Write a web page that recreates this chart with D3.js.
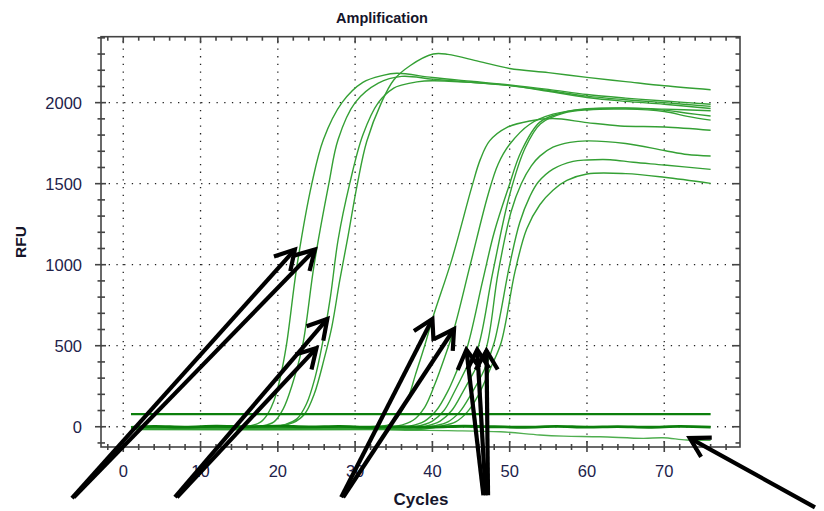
<!DOCTYPE html>
<html><head><meta charset="utf-8">
<script src="https://cdn.jsdelivr.net/npm/d3@7/dist/d3.min.js"></script>
<style>body{margin:0;background:#fff;}svg{display:block;font-family:"Liberation Sans",Arial,sans-serif;}</style>
</head><body><svg id="c" width="824" height="511"></svg>
<script>
const title = "Amplification", xLabel = "Cycles", yLabel = "RFU";
const xTicks = [0, 10, 20, 30, 40, 50, 60, 70];
const yTicks = [0, 500, 1000, 1500, 2000];
const xMinor = d3.range(-2, 80, 2);
const yMinor = d3.range(-100, 2401, 100);
const threshold = 78;
const cycleSpan = [1, 76];

// early amplification curves [cycle, RFU]
const earlyA = [[1,-3],[8,0],[14,2],[16.5,6],[17.8,30],[18.7,80],[19.5,160],[20.3,300],[21.1,500],[22.5,1000],[24.4,1500],[25.9,1773],[28.3,2000],[31,2125],[33.6,2168],[35.4,2181],[40,2155],[45,2132],[50,2110],[55,2082],[60,2050],[65,2028],[70,2010],[76,1990]];
const earlyB = [[1,-5],[8,-2],[15,0],[18,6],[19.5,30],[20.7,110],[21.8,250],[23.2,500],[24.7,1000],[26.6,1500],[27.8,1773],[30,2000],[33,2120],[36,2162],[40,2145],[45,2125],[50,2105],[55,2075],[60,2040],[65,2018],[70,2000],[76,1977]];
const earlyC = [[1,-8],[10,-4],[17,0],[19,4],[21,15],[22.5,50],[23.7,140],[24.8,300],[25.8,520],[26.8,800],[27.8,1154],[29.3,1500],[31,1800],[33,2000],[35,2090],[36,2108],[38,2128],[40,2135],[45,2125],[50,2105],[55,2070],[60,2032],[65,2008],[70,1990],[76,1964]];
const earlyD = [[1,-10],[10,-6],[18,-2],[20,5],[22,25],[23.5,80],[24.7,200],[26,420],[27,620],[28,900],[29,1154],[30.3,1500],[31.5,1760],[33.4,2000],[35,2140],[37.1,2228],[40.1,2300],[42,2298],[46,2255],[50,2211],[55,2185],[60,2156],[65,2130],[70,2104],[76,2080]];

// late amplification curves [cycle, RFU]
const late1 = [[1,-5],[20,-5],[30,-3],[33,3],[34.5,15],[35.5,60],[36.8,170],[37.8,320],[39,500],[40.1,680],[42.5,1030],[45.1,1480],[46.2,1650],[47.4,1764],[49.6,1846],[52.6,1887],[55.6,1902],[60,1877],[64.3,1856],[70,1850],[76,1830]];
const late2 = [[1,-8],[25,-6],[33,-4],[35.5,5],[37.5,40],[39,120],[40.3,260],[41.6,430],[42.8,603],[44.9,1000],[47.2,1432],[48.5,1620],[50,1743],[52.6,1867],[55.6,1929],[60,1960],[64.3,1966],[70,1954],[73,1935],[76,1918]];
const late3 = [[1,-10],[30,-8],[35,-6],[37,3],[39,35],[40.5,100],[42,220],[43.3,360],[44.4,475],[46.5,900],[48,1200],[49.8,1470],[51.5,1700],[53.9,1880],[57,1940],[60,1962],[65,1968],[70,1960],[76,1950]];
const late4 = [[1,-12],[30,-10],[36,-8],[38,2],[40,35],[41.5,100],[43,230],[44.6,380],[45.8,475],[47.8,950],[50,1432],[52,1720],[54,1870],[57,1935],[60,1955],[65,1960],[70,1945],[73,1915],[76,1892]];
const late5 = [[1,-12],[32,-12],[37,-10],[39,2],[41,35],[42.5,100],[44,220],[45.5,350],[46.9,475],[48.5,950],[50.2,1330],[51.5,1500],[52.8,1610],[53.9,1670],[55.6,1725],[57.8,1755],[60,1764],[65,1748],[70,1705],[73,1680],[76,1671]];
const late6 = [[1,-15],[34,-15],[38,-12],[40,3],[42,30],[43.5,90],[45,200],[46.7,350],[48,520],[50,1000],[51.3,1260],[52.6,1420],[53.7,1510],[55.6,1590],[58.2,1638],[60,1646],[63,1648],[66,1632],[70,1615],[76,1588]];
const late7 = [[1,-18],[35,-18],[39,-14],[41,3],[43,30],[44.5,90],[46,200],[47.6,370],[48.9,520],[50.7,960],[52.2,1220],[53.9,1370],[55.6,1460],[57.4,1520],[60,1560],[65,1562],[70,1540],[76,1502]];

// flat traces
const ntc = [[1,-4],[4,2],[8,-2],[12,3],[16,0],[20,4],[24,-1],[28,2],[32,-3],[36,1],[40,-2],[44,3],[48,0],[52,-3],[56,2],[60,-2],[64,1],[68,-3],[72,2],[76,-2]];
const drift = [[1,-8],[10,-5],[20,-3],[30,-7],[35.8,-20],[42,-24],[48.8,-31],[53.9,-51],[57,-58],[61.7,-62],[67.3,-72],[69.8,-68],[72.9,-82],[76,-84]];

// annotation arrows (tail -> tip) in [cycle, RFU]
const arrowTails = [[-6.64,-441],[-6.4,-436],[6.69,-435],[6.95,-435],[28.2,-435],[28.45,-435],[46.6,-423],[46.9,-423],[47.2,-423],[89.5,-498]];
const arrowTips  = [[22.2,1093],[24.8,1093],[26.4,665],[25.0,485],[40.0,665],[42.8,603],[44.4,475],[45.8,475],[47.0,470],[73.3,-70]];

const svg = d3.select("#c");
const x = d3.scaleLinear().domain([-2.88, 79.8]).range([101, 740]);
const y = d3.scaleLinear().domain([-125, 2407]).range([447, 36.7]);
const [L, R] = x.range(), [B, T] = y.range();

// grid
const grid = svg.append("g").attr("stroke", "#222").attr("stroke-width", 1.3).attr("stroke-dasharray", "1.3,6.4");
xTicks.forEach(t => grid.append("line").attr("x1", x(t)).attr("x2", x(t)).attr("y1", T + 4).attr("y2", B));
yTicks.forEach(t => grid.append("line").attr("x1", L).attr("x2", R).attr("y1", y(t)).attr("y2", y(t)));

// curves
const line = d3.line().x(d => x(d[0])).y(d => y(d[1])).curve(d3.curveCatmullRom.alpha(0.5));
const ampCurves = [earlyA, earlyB, earlyC, earlyD, late1, late2, late3, late4, late5, late6, late7];
svg.append("path").datum(drift).attr("d", line).attr("fill", "none").attr("stroke", "#4fae4f").attr("stroke-width", 1.4);
svg.append("g").selectAll("path").data(ampCurves).join("path")
  .attr("d", line).attr("fill", "none").attr("stroke", "#34a034").attr("stroke-width", 1.4);
svg.append("path").datum(ntc).attr("d", line).attr("fill", "none").attr("stroke", "#0c7f0c").attr("stroke-width", 2.8);
svg.append("line").attr("x1", x(cycleSpan[0])).attr("x2", x(cycleSpan[1])).attr("y1", y(threshold)).attr("y2", y(threshold))
  .attr("stroke", "#0c7f0c").attr("stroke-width", 2.4);

// frame + ticks
const ax = svg.append("g").attr("stroke", "#444").attr("stroke-width", 1.6);
ax.append("rect").attr("x", L).attr("y", T).attr("width", R - L).attr("height", B - T).attr("fill", "none");
yMinor.forEach(v => {
  const maj = yTicks.includes(v);
  ax.append("line").attr("x1", maj ? L - 6 : L - 3.5).attr("x2", maj ? L + 5 : L + 4).attr("y1", y(v)).attr("y2", y(v));
  ax.append("line").attr("x1", R).attr("x2", maj ? R - 8 : R - 4.5).attr("y1", y(v)).attr("y2", y(v));
});
xMinor.forEach(v => {
  const maj = xTicks.includes(v);
  ax.append("line").attr("x1", x(v)).attr("x2", x(v)).attr("y1", maj ? B - 6 : B - 3).attr("y2", maj ? B + 5 : B + 3);
  ax.append("line").attr("x1", x(v)).attr("x2", x(v)).attr("y1", T).attr("y2", maj ? T + 6.5 : T + 4);
});

// labels
const lab = svg.append("g").attr("fill", "#22224a").attr("font-size", 16.5);
yTicks.forEach(v => lab.append("text").attr("x", 82).attr("y", y(v)).attr("dy", "0.36em").attr("text-anchor", "end").text(v));
xTicks.forEach(v => lab.append("text").attr("x", x(v)).attr("y", 476.5).attr("text-anchor", "middle").text(v));
svg.append("text").attr("x", 382).attr("y", 23).attr("text-anchor", "middle").attr("font-weight", "bold").attr("font-size", 14.5).attr("fill", "#15152a").text(title);
svg.append("text").attr("x", 421).attr("y", 505).attr("text-anchor", "middle").attr("font-weight", "bold").attr("font-size", 17).attr("fill", "#15152a").text(xLabel);
svg.append("text").attr("transform", "translate(26,242) rotate(-90)").attr("text-anchor", "middle").attr("font-weight", "bold").attr("font-size", 15.5).attr("fill", "#15152a").text(yLabel);

// arrows
const arr = svg.append("g").attr("stroke", "#000").attr("stroke-width", 4.2).attr("fill", "none").attr("stroke-linejoin", "miter");
arrowTails.forEach((tl, i) => {
  const tp = arrowTips[i];
  const x0 = x(tl[0]), y0 = y(tl[1]), x1 = x(tp[0]), y1 = y(tp[1]);
  const ang = Math.atan2(y0 - y1, x0 - x1), len = 22, sp = Math.PI / 6;
  arr.append("line").attr("x1", x0).attr("y1", y0).attr("x2", x1).attr("y2", y1);
  arr.append("path").attr("d", d3.line()([
    [x1 + len * Math.cos(ang + sp), y1 + len * Math.sin(ang + sp)], [x1, y1],
    [x1 + len * Math.cos(ang - sp), y1 + len * Math.sin(ang - sp)]]));
});
</script></body></html>
